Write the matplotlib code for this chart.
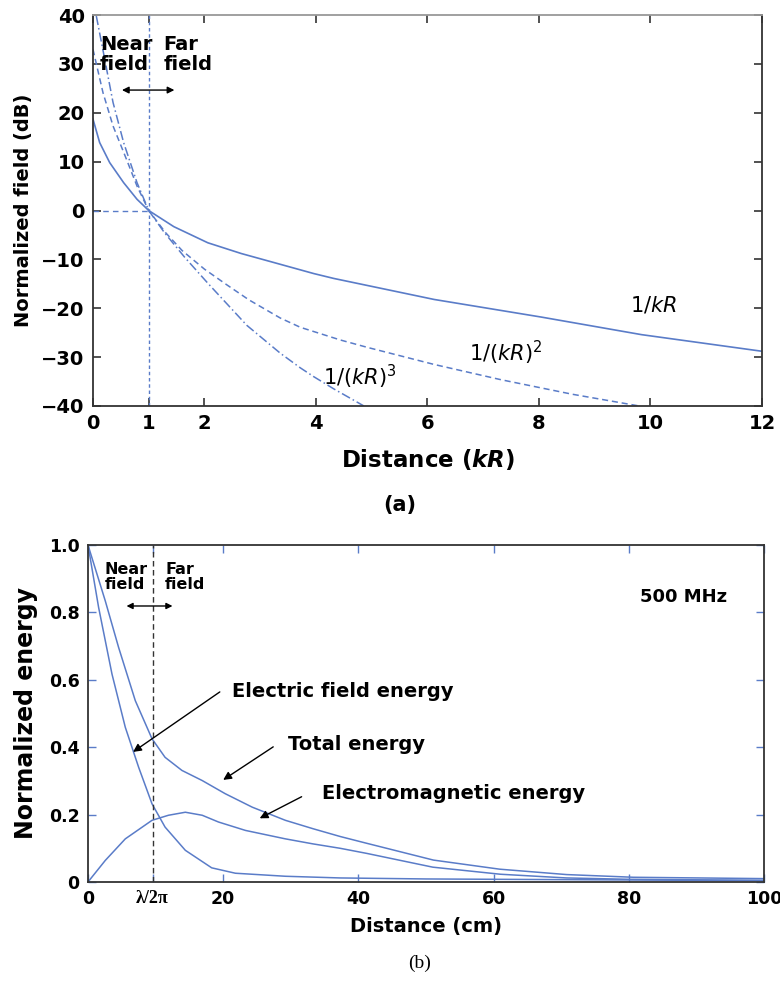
import numpy as np
import matplotlib
matplotlib.use("Agg")
import matplotlib.pyplot as plt

plt.rcParams['font.family'] = 'DejaVu Sans'
plt.rcParams['mathtext.fontset'] = 'dejavusans'

# ---- panel (a): normalized field vs kR (dB) ----
kr_1 = [0.0, 0.12, 0.3, 0.55, 0.79, 1.0, 1.45, 2.06, 2.66, 3.2, 3.96,
        4.32, 6.12, 8.04, 9.84, 12.0]
db_1 = [18.7, 13.9, 9.8, 5.7, 2.3, 0.0, -3.3, -6.6, -8.8, -10.5, -12.9,
        -13.9, -18.2, -21.8, -25.4, -28.8]

kr_2 = [0.0, 0.18, 0.36, 0.6, 0.79, 1.0, 1.3, 1.6, 2.0, 2.4, 2.8, 3.36, 3.72,
        4.44, 4.92, 6.12, 7.31, 8.04, 8.6, 9.8]
db_2 = [33.0, 24.1, 17.3, 10.5, 5.0, 0.0, -4.5, -8.2, -12.0, -15.2, -18.3, -22.0,
        -23.9, -26.5, -28.0, -31.5, -34.6, -36.3, -37.6, -40.0]

kr_3 = [0.06, 0.21, 0.36, 0.55, 0.79, 1.0, 1.28, 1.64, 2.07, 2.46, 2.76, 3.36,
        3.72, 3.96, 4.32, 4.86]
db_3 = [39.8, 31.0, 22.1, 13.9, 5.7, 0.0, -4.5, -9.5, -15.0, -19.8, -23.5, -29.2,
        -32.2, -34.0, -36.5, -40.0]

xticks_a = [0, 1, 2, 4, 6, 8, 10, 12]
yticks_a = [40, 30, 20, 10, 0, -10, -20, -30, -40]

# ---- panel (b): normalized energy vs distance (cm), 500 MHz ----
near_far = 9.55  # lambda / 2pi at 500 MHz

d_elec = [0, 1.57, 3.55, 5.52, 7.5, 9.47, 11.4, 14.4, 18.3, 21.8, 29.2, 37.3,
          50, 70, 100]
e_elec = [1.0, 0.815, 0.617, 0.459, 0.34, 0.232, 0.163, 0.094, 0.042, 0.026,
          0.017, 0.012, 0.009, 0.007, 0.004]

d_tot = [0, 2.56, 4.53, 7.0, 9.47, 11.4, 13.9, 16.9, 20.3, 24.3, 29.2, 33.3,
         37.3, 41.2, 51.1, 60.9, 70.8, 80.7, 100]
e_tot = [1.0, 0.834, 0.696, 0.538, 0.425, 0.37, 0.331, 0.301, 0.262, 0.222,
         0.183, 0.158, 0.135, 0.115, 0.065, 0.038, 0.022, 0.014, 0.010]

d_em = [0, 2.56, 5.52, 9.47, 11.9, 14.4, 16.9, 19.3, 23.3, 29.2, 33.3, 37.3,
        41.2, 51, 61, 70.8, 80, 100]
e_em = [0, 0.064, 0.128, 0.183, 0.198, 0.207, 0.198, 0.178, 0.153, 0.128,
        0.113, 0.10, 0.085, 0.044, 0.023, 0.012, 0.008, 0.005]

xticks_b = [0, near_far, 20, 40, 60, 80, 100]
xlabels_b = ['0', 'λ/2π', '20', '40', '60', '80', '100']
yticks_b = [0, 0.2, 0.4, 0.6, 0.8, 1.0]
ylabels_b = ['0', '0.2', '0.4', '0.6', '0.8', '1.0']

blue = '#5a7cc8'

fig = plt.figure(figsize=(7.8, 9.9), dpi=100)

# ---------------- (a) ----------------
ax1 = fig.add_axes([0.1192, 0.5899, 0.8577, 0.3949])
ax1.plot(kr_1, db_1, color=blue, lw=1.2)
ax1.plot(kr_2, db_2, color=blue, lw=1.1, ls=(0, (4, 2.5)))
ax1.plot(kr_3, db_3, color=blue, lw=1.1, ls=(0, (6, 2, 1, 2)))
ax1.plot([0, 1], [0, 0], color=blue, lw=1.0, ls=(0, (4, 3)))
ax1.plot([1, 1], [-40, 40], color=blue, lw=1.0, ls=(0, (2.5, 2)))
ax1.set_xlim(0, 12)
ax1.set_ylim(-40, 40)
ax1.set_xticks(xticks_a)
ax1.set_yticks(yticks_a)
ax1.tick_params(direction='in', top=True, right=True, length=6, width=1.2,
                color='#333333', labelsize=14, pad=6)
for lab in ax1.get_xticklabels() + ax1.get_yticklabels():
    lab.set_fontweight('bold')
ax1.set_xlabel('Distance (' + r'$\mathbfit{kR}$' + ')', fontsize=16.5,
               fontweight='bold', labelpad=10)
ax1.set_ylabel('Normalized field (dB)', fontsize=14, fontweight='bold', labelpad=6)
for s in ['left', 'bottom', 'right']:
    ax1.spines[s].set_color('#333333')
    ax1.spines[s].set_linewidth(1.3)
ax1.spines['top'].set_color('#999999')
ax1.spines['top'].set_linewidth(1.3)

ax1.text(0.126, 32.0, 'Near\nfield', fontsize=14, fontweight='bold', va='center',
         ha='left', linespacing=1.05)
ax1.text(1.26, 32.0, 'Far\nfield', fontsize=14, fontweight='bold', va='center',
         ha='left', linespacing=1.05)
ax1.annotate('', xy=(0.52, 24.65), xytext=(1.46, 24.65),
             arrowprops=dict(arrowstyle='<|-|>', color='black', lw=1.0,
                             mutation_scale=10, shrinkA=0, shrinkB=0))
ax1.text(10.05, -19.3, r'$1/kR$', fontsize=15, ha='center', va='center')
ax1.text(7.4, -29.1, r'$1/(kR)^2$', fontsize=15, ha='center', va='center')
ax1.text(4.79, -34.0, r'$1/(kR)^3$', fontsize=15, ha='center', va='center')
fig.text(0.513, 1 - 505 / 990, '(a)', fontsize=15, fontweight='bold',
         ha='center', va='center')

# ---------------- (b) ----------------
ax2 = fig.add_axes([0.1128, 0.1091, 0.8667, 0.3404])
ax2.plot(d_elec, e_elec, color=blue, lw=1.1)
ax2.plot(d_tot, e_tot, color=blue, lw=1.1)
ax2.plot(d_em, e_em, color=blue, lw=1.1)
ax2.plot([near_far, near_far], [0, 1.0], color='#333333', lw=1.0, ls=(0, (4, 2.5)))
ax2.set_xlim(0, 100)
ax2.set_ylim(0, 1.0)
ax2.set_xticks(xticks_b)
ax2.set_xticklabels(xlabels_b)
ax2.set_yticks(yticks_b)
ax2.set_yticklabels(ylabels_b)
ax2.tick_params(direction='in', top=True, right=True, length=6, width=1.0,
                color=blue, labelsize=12.5, pad=6)
for lab in ax2.get_xticklabels() + ax2.get_yticklabels():
    lab.set_fontweight('bold')
ax2.get_xticklabels()[1].set_family('Liberation Serif')
ax2.get_xticklabels()[1].set_fontsize(13)
for s in ax2.spines.values():
    s.set_color('#333333')
    s.set_linewidth(1.3)
ax2.set_xlabel('Distance (cm)', fontsize=14, fontweight='bold', labelpad=6)
ax2.set_ylabel('Normalized energy', fontsize=17, fontweight='bold', labelpad=8)

ax2.text(2.5, 0.905, 'Near\nfield', fontsize=11.5, fontweight='bold', va='center',
         ha='left', linespacing=1.05)
ax2.text(11.4, 0.905, 'Far\nfield', fontsize=11.5, fontweight='bold', va='center',
         ha='left', linespacing=1.05)
ax2.annotate('', xy=(5.7, 0.819), xytext=(12.5, 0.819),
             arrowprops=dict(arrowstyle='<|-|>', color='black', lw=1.0,
                             mutation_scale=9, shrinkA=0, shrinkB=0))
ax2.text(81.7, 0.846, '500 MHz', fontsize=13, fontweight='bold', va='center', ha='left')

arrow_kw = dict(arrowstyle='-|>', color='black', lw=1.0, mutation_scale=12,
                shrinkA=0, shrinkB=0)
ax2.text(21.3, 0.564, 'Electric field energy', fontsize=14, fontweight='bold',
         va='center', ha='left')
ax2.annotate('', xy=(6.67, 0.386), xytext=(19.5, 0.564), arrowprops=arrow_kw)
ax2.text(29.6, 0.407, 'Total energy', fontsize=14, fontweight='bold',
         va='center', ha='left')
ax2.annotate('', xy=(20.0, 0.303), xytext=(27.4, 0.401), arrowprops=arrow_kw)
ax2.text(34.6, 0.264, 'Electromagnetic energy', fontsize=14, fontweight='bold',
         va='center', ha='left')
ax2.annotate('', xy=(25.4, 0.189), xytext=(31.6, 0.253), arrowprops=arrow_kw)

fig.text(0.538, 1 - 963 / 990, '(b)', fontsize=14, family='Liberation Serif',
         ha='center', va='center')

fig.savefig('out.png', dpi=100)
